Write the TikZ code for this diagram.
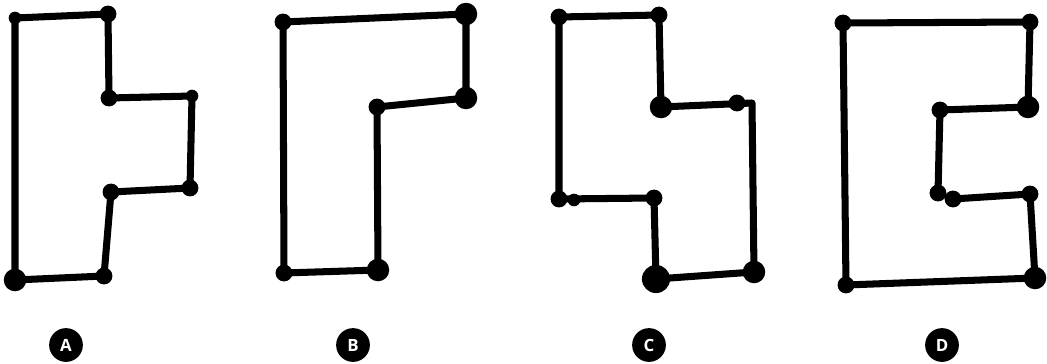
\documentclass[tikz,border=0pt]{standalone}
\usepackage{fontspec}
\setsansfont{Open Sans}
\usepackage{tikz}
\usetikzlibrary{calc}

\begin{document}
\begin{tikzpicture}[
  x=0.025cm, y=-0.025cm,
  outline/.style={line width=5pt, line join=round, line cap=round, black},
  corner/.style={circle, fill=black, inner sep=0pt, minimum size=12pt},
  smallcorner/.style={corner, minimum size=9pt},
  bigcorner/.style={corner, minimum size=16pt},
  badge/.style={
    circle,
    fill=black,
    text=white,
    minimum size=24pt,
    inner sep=0pt,
    font=\sffamily\bfseries\large
  }
]
\useasboundingbox (0,0) rectangle (1047,363);

% shape A
\coordinate (a1) at (15,18);
\coordinate (a2) at (108,14);
\coordinate (a3) at (109,98);
\coordinate (a4) at (192,96);
\coordinate (a5) at (190,188);
\coordinate (a6) at (111,192);
\coordinate (a7) at (104,276);
\coordinate (a8) at (15,280);
\draw[outline] (a1) -- (a2) -- (a3) -- (a4) -- (a5) -- (a6) -- (a7) -- (a8) -- cycle;
\foreach \p in {a2,a3,a5,a6,a7}
  \node[corner] at (\p) {};
\node[smallcorner] at (a1) {};
\node[smallcorner] at (a4) {};
\node[bigcorner] at (a8) {};

% shape B
\coordinate (b1) at (283,22);
\coordinate (b2) at (466,14);
\coordinate (b3) at (466,98);
\coordinate (b4) at (377,107);
\coordinate (b5) at (378,270);
\coordinate (b6) at (284,273);
\draw[outline] (b1) -- (b2) -- (b3) -- (b4) -- (b5) -- (b6) -- cycle;
\foreach \p in {b1,b4,b6}
  \node[corner] at (\p) {};
\foreach \p in {b2,b3,b5}
  \node[bigcorner] at (\p) {};

% shape C
\coordinate (c1) at (559,17);
\coordinate (c2) at (659,15);
\coordinate (c3) at (661,107);
\coordinate (c4) at (752,103);
\coordinate (c5) at (754,272);
\coordinate (c6) at (656,279);
\coordinate (c7) at (654,198);
\coordinate (c8) at (559,199);
\draw[outline] (c1) -- (c2) -- (c3) -- (c4) -- (c5) -- (c6) -- (c7) -- (c8) -- cycle;
\foreach \p in {c1,c2,c7,c8}
  \node[corner] at (\p) {};
\node[bigcorner] at (c3) {};
\node[corner] at (737,103) {};
\node[smallcorner] at (574,200) {};
\node[bigcorner] at (c5) {};
\node[bigcorner, minimum size=20pt] at (c6) {};

% shape D
\coordinate (d1) at (843,23);
\coordinate (d2) at (1030,22);
\coordinate (d3) at (1028,107);
\coordinate (d4) at (940,110);
\coordinate (d5) at (938,193);
\coordinate (d6) at (953,199);
\coordinate (d7) at (1030,194);
\coordinate (d8) at (1035,278);
\coordinate (d9) at (846,285);
\draw[outline] (d6) -- (d7) -- (d8) -- (d9) -- (d1) -- (d2) -- (d3) -- (d4) -- (d5);
\foreach \p in {d1,d2,d4,d5,d6,d7,d9}
  \node[corner] at (\p) {};
\node[bigcorner] at (d3) {};
\node[bigcorner] at (d8) {};

% labels
\node[badge] (labA) at (66,345) {A};
\node[badge] (labB) at (353,345) {B};
\node[badge] (labC) at (649,345) {C};
\node[badge] (labD) at (942,345) {D};
\end{tikzpicture}
\end{document}
